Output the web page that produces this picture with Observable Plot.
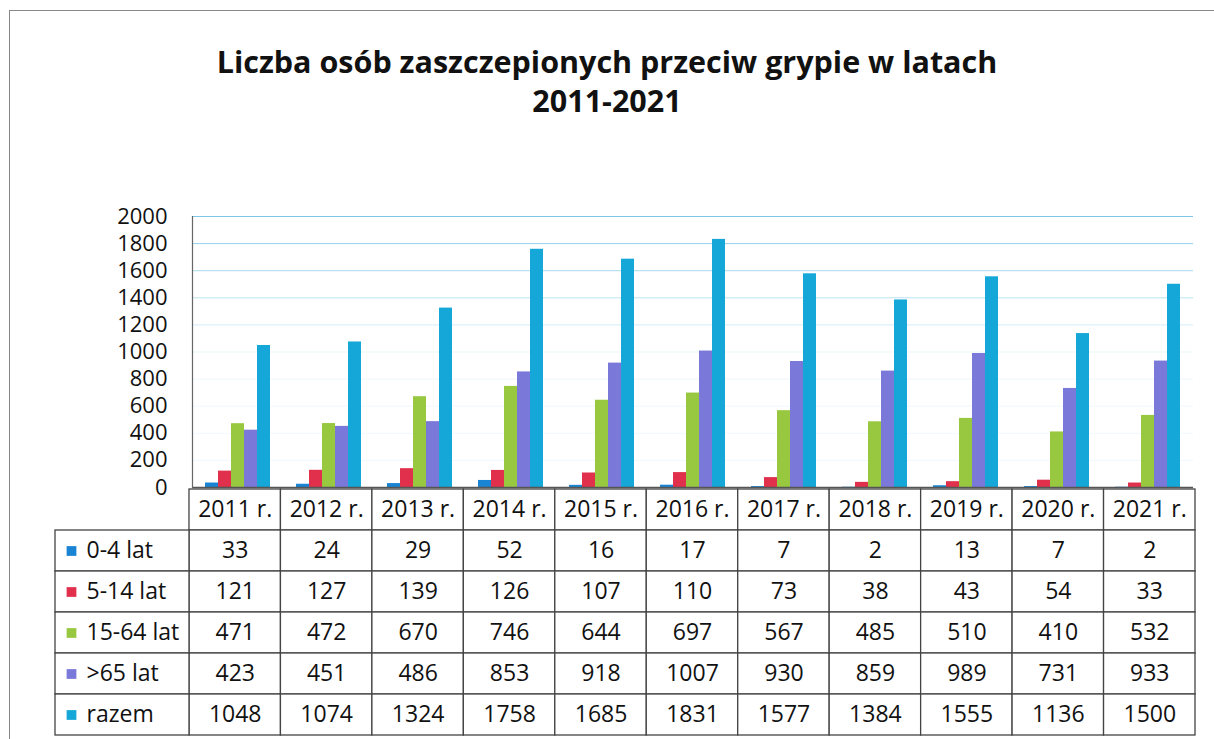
<!DOCTYPE html>
<html>
<head>
<meta charset="utf-8">
<script src="https://cdn.jsdelivr.net/npm/d3@7"></script>
<script src="https://cdn.jsdelivr.net/npm/@observablehq/plot@0.6"></script>
<style>
  body { margin: 0; background: #fff; }
  #wrap { position: relative; width: 1214px; height: 739px; background: #fff; overflow: hidden; }
  #frame { position: absolute; left: 9px; top: 10px; width: 1210px; height: 740px;
           border-left: 1.5px solid #888; border-top: 1.5px solid #888; }
  #title { position: absolute; left: 0; top: 42px; width: 1214px; text-align: center;
           font: bold 30.5px 'Open Sans', sans-serif; line-height: 39px; color: #111; }
  #chart { position: absolute; left: 0; top: 180px; }
  #table { position: absolute; left: 0; top: 487px; }
</style>
</head>
<body>
<div id="wrap">
  <div id="frame"></div>
  <div id="title">Liczba osób zaszczepionych przeciw grypie w latach<br>2011-2021</div>
  <div id="chart"></div>
  <div id="table"></div>
</div>
<script>
const years = ["2011 r.", "2012 r.", "2013 r.", "2014 r.", "2015 r.", "2016 r.", "2017 r.", "2018 r.", "2019 r.", "2020 r.", "2021 r."];
const series = ["0-4 lat", "5-14 lat", "15-64 lat", ">65 lat", "razem"];
const v0_4   = [33, 24, 29, 52, 16, 17, 7, 2, 13, 7, 2];
const v5_14  = [121, 127, 139, 126, 107, 110, 73, 38, 43, 54, 33];
const v15_64 = [471, 472, 670, 746, 644, 697, 567, 485, 510, 410, 532];
const v65    = [423, 451, 486, 853, 918, 1007, 930, 859, 989, 731, 933];
const razem  = [1048, 1074, 1324, 1758, 1685, 1831, 1577, 1384, 1555, 1136, 1500];
const yTicks = [0, 200, 400, 600, 800, 1000, 1200, 1400, 1600, 1800, 2000];
const colors = ["#1a84d4", "#e0304c", "#98c840", "#7a78d8", "#14a7d8"];

const values = [v0_4, v5_14, v15_64, v65, razem];
const data = years.flatMap((yr, i) => series.map((s, j) => ({year: yr, series: s, value: values[j][i]})));

const chart = Plot.plot({
  width: 1214, height: 310,
  marginTop: 36, marginBottom: 3, marginLeft: 189, marginRight: 19,
  style: {fontFamily: "'Open Sans', sans-serif", fontSize: "22px", color: "#111", background: "transparent", overflow: "visible"},
  fx: {domain: years, padding: 0, axis: null},
  x: {domain: series, paddingInner: 0, paddingOuter: 0.86, axis: null},
  y: {domain: [0, 2000], axis: null},
  color: {domain: series, range: colors},
  marks: [
    Plot.ruleY(yTicks.filter(d => d > 0), {y: d => d, stroke: "#7cc8e6", strokeWidth: 1, strokeOpacity: d => Math.max(0.12, (d - 800) / 1200)}),
    Plot.barY(data, {fx: "year", x: "series", y: "value", fill: "series"}),
    Plot.ruleY([0], {stroke: "#555", strokeWidth: 1.5}),
    Plot.frame({anchor: "left", facetAnchor: "left", stroke: "#666", strokeWidth: 1.2}),
    Plot.axisY({ticks: yTicks, tickSize: 0, tickPadding: 25, fontSize: 22, label: null, facetAnchor: "left", tickFormat: d => String(d)})
  ]
});
document.getElementById("chart").appendChild(chart);

// table
const labelSpan = 1.465;
const rows = ["hdr", ...series];
const cells = [];
years.forEach((yr, i) => {
  cells.push({c: i, row: "hdr", label: yr});
  series.forEach((s, j) => cells.push({c: i, row: s, label: String(values[j][i])}));
});

const table = Plot.plot({
  width: 1214, height: 250,
  marginTop: 1, marginBottom: 1, marginLeft: 55, marginRight: 19,
  style: {fontFamily: "'Open Sans', sans-serif", fontSize: "23px", color: "#111", background: "transparent", overflow: "visible"},
  x: {domain: [-labelSpan, years.length], axis: null},
  y: {domain: rows, padding: 0, axis: null},
  color: {domain: series, range: colors},
  marks: [
    Plot.barX(cells, {x1: "c", x2: d => d.c + 1, y: "row", fill: "white", stroke: "#444", strokeWidth: 1.3}),
    Plot.barX(series, {x1: -labelSpan, x2: 0, y: d => d, fill: "white", stroke: "#444", strokeWidth: 1.3}),
    Plot.text(cells, {x: d => d.c + 0.5, y: "row", text: "label", fontSize: 23, fill: "#111"}),
    Plot.dot(series, {x: -labelSpan, y: d => d, dx: 16, symbol: "square", r: 5.5, fill: d => d}),
    Plot.text(series, {x: -labelSpan, y: d => d, text: d => d, dx: 31, textAnchor: "start", fontSize: 23, fill: "#111"})
  ]
});
document.getElementById("table").appendChild(table);
</script>
</body>
</html>
